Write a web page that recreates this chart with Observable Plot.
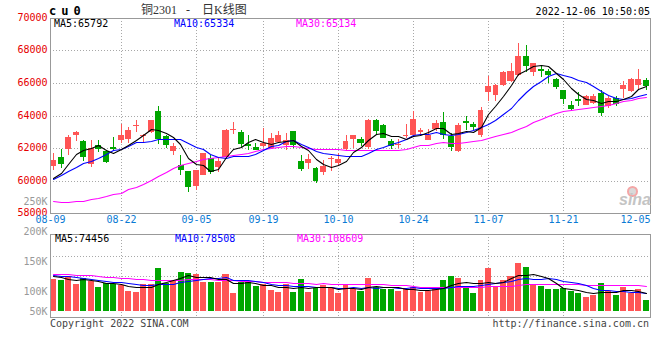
<!DOCTYPE html>
<html><head><meta charset="utf-8">
<script src="https://cdn.jsdelivr.net/npm/d3@7"></script>
<script src="https://cdn.jsdelivr.net/npm/@observablehq/plot@0.6"></script>
<style>
html,body{margin:0;padding:0;background:#fff;}
#chart{position:relative;width:660px;height:360px;overflow:hidden;background:#fff;font-family:'DejaVu Sans Mono',monospace;}
#chart svg{position:absolute;left:0;top:0;}
.t{position:absolute;white-space:pre;line-height:normal;font-size:10px;font-family:'DejaVu Sans Mono',monospace;}
</style></head><body><div id="chart"></div>
<script>
// ---- data ----
const dates = ["08-09","08-10","08-11","08-12","08-15","08-16","08-17","08-18","08-19","08-22","08-23","08-24","08-25","08-26","08-29","08-30","08-31","09-01","09-02","09-05","09-06","09-07","09-08","09-09","09-13","09-14","09-15","09-16","09-19","09-20","09-21","09-22","09-23","09-26","09-27","09-28","09-29","09-30","10-10","10-11","10-12","10-13","10-14","10-17","10-18","10-19","10-20","10-21","10-24","10-25","10-26","10-27","10-28","10-31","11-01","11-02","11-03","11-04","11-07","11-08","11-09","11-10","11-11","11-14","11-15","11-16","11-17","11-18","11-21","11-22","11-23","11-24","11-25","11-28","11-29","11-30","12-01","12-02","12-05","12-06"];
const open = [60890,61440,61960,62790,62410,61040,62160,61810,62080,62470,
62550,63370,62730,63000,64260,62710,61810,60930,60570,59650,
60340,61400,60850,61470,63160,62960,62260,62060,62100,62020,
62360,62160,63020,61180,61060,60750,60500,61300,61080,61960,
62530,62530,62060,63750,63390,62430,62220,62710,62770,62980,
62490,63140,63630,62730,61790,63690,63450,62770,65470,65290,
65900,66100,66510,67680,66650,66860,66760,66250,65550,64670,
65040,64670,64770,65390,64570,65080,65630,65490,65900,66200];
const high = [61710,61910,62830,63020,62490,62490,62490,61850,62670,63450,
63300,63750,62870,63750,64610,62830,62320,61550,60570,60630,
61670,61550,61400,63160,63570,63080,62830,62320,63240,62930,
63020,62900,63020,61550,61610,60830,61240,61500,61690,62770,
62830,62650,63790,63810,63450,62570,62530,63450,64260,63240,
63140,63750,64200,62940,63510,64000,63630,64510,66450,65940,
66760,67230,68450,68350,67230,67120,66860,66310,65590,64880,
65430,65290,65350,65550,65220,65180,66100,66310,66860,66310];
const low = [60630,60750,61550,62430,61200,60850,61750,61100,61850,62320,
62320,62980,62360,62900,62220,61980,61570,60340,59300,59400,
60340,60380,60500,61470,62850,62080,61870,61870,62060,61910,
62320,61850,62020,60570,60710,59830,60340,60590,60970,61790,
61980,62100,61910,62870,62610,61910,61980,62610,62690,62730,
62490,63040,62570,61790,61750,63100,63100,62690,64920,64920,
65800,66040,66410,66650,66410,66370,66000,65630,64710,64330,
64610,64670,64730,63960,64470,64570,65080,65430,65550,65590];
const close = [61240,61020,62690,62960,61440,62020,61910,61140,61980,62770,
63100,63430,62830,63710,62530,62160,62120,60630,59570,60630,
61670,60530,61180,63100,63200,62220,62180,61960,62280,62630,
62770,62490,62160,60690,61300,59970,60870,61380,61300,62410,
62770,62300,63750,63060,62610,62100,62260,62830,63810,63120,
62830,63510,62790,62060,63390,63510,63300,64310,65800,65860,
66650,66760,67680,67020,67230,66720,66490,65760,65020,64370,
64880,65180,65220,64160,65080,64730,65900,66270,66250,65840];
const volume = [136200,131900,147500,114900,140400,126300,102200,119200,116400,110700,
83800,79500,113500,113500,182900,119200,126300,165900,160300,156000,
123400,123400,123400,156000,76700,124900,124900,107900,116400,88000,
79500,116400,79500,136200,79500,96500,110700,96500,76700,113500,
95100,83800,138100,100800,93700,93700,83800,93700,102200,79500,
86600,97900,130500,147500,141900,96500,75300,130500,181500,107900,
130500,147500,202800,185800,112100,105000,92300,92300,96500,83800,
75300,58300,66800,117800,83800,66800,100800,75300,92300,45500];
// moving-average values at the left edge (they depend on earlier sessions)
const ma5Start = [60180,60440,61000,61610];
const ma10Start = [60120,60320,60590,60830,61060,61200,61400,61610,61850];
const ma30Start = [58730,58690,58690,58710,58750,58850,58950,59050,59180,59260,59460,59610,59810,60050,60300,60520,60740,60970,61100,61220,61300,61360,61440,61510,61570,61630,61710,61830,61940];
const vma5Start = [147500,144600,137600,133300];
const vma10Start = [151700,150300,147500,144600,140400,136100,133300,129100,124800];
const vma30Start = [157400,157400,157400,154500,153100,151700,147500,143200,143200,141800,140400,137600,136100,133300,131900,131900,131900,133300,134700,136100,136100,134700,133300,133300,130000,128500,127000,125500,124500];
const priceMaNow = [65792, 65334, 65134];
const volMaNow = [74456, 78508, 108609];
const priceTicks = [58000,60000,62000,64000,66000,68000,70000];
const priceGrid = [60000,62000,64000,66000,68000];
const tickDates = ["08-09","08-22","09-05","09-19","10-10","10-24","11-07","11-21","12-05"];
const gridDates = ["08-22","09-05","09-19","10-10","10-24","11-07","11-21"];
const volTicks = [50000,100000,150000,200000,250000];
const volGrid = [150000,235000];

// ---- helpers ----
const N = dates.length;
const idx = d3.range(N);
const RED = "#ff5555", GREEN = "#00a600", GRID = "#a8a8a8", FRAME = "#999999", BLUE = "#0a7ad4";
const candleColor = i => close[i] >= open[i] ? RED : GREEN;
const mov = (vals, n, start) => vals.map((v, i) => i < n - 1 ? start[i] : d3.mean(vals.slice(i - n + 1, i + 1)));
const ma5 = mov(close, 5, ma5Start), ma10 = mov(close, 10, ma10Start), ma30 = mov(close, 30, ma30Start);
const vma5 = mov(volume, 5, vma5Start), vma10 = mov(volume, 10, vma10Start), vma30 = mov(volume, 30, vma30Start);
const cx = i => i + 0.4;
const labelX = d => { const i = dates.indexOf(d); return i === 0 ? 0 : i === N - 2 ? i : cx(i); };
const styleBase = {fontFamily: "'DejaVu Sans Mono', monospace", fontSize: "10px", overflow: "visible"};
const dotted = {stroke: GRID, strokeDasharray: "1,2", shapeRendering: "crispEdges"};

const pricePlot = Plot.plot({
  width: 660, height: 230,
  marginLeft: 50, marginRight: 10, marginTop: 18, marginBottom: 17,
  x: {domain: [0, N], axis: null, round: true},
  y: {domain: [58000, 70000], axis: null, round: true},
  color: {type: "identity"},
  style: {...styleBase, background: "white"},
  marks: [
    Plot.ruleY(priceGrid, dotted),
    Plot.ruleX(gridDates, {x: d => cx(dates.indexOf(d)), ...dotted}),
    Plot.ruleX(idx, {x: cx, y1: i => low[i], y2: i => high[i], stroke: candleColor, shapeRendering: "crispEdges"}),
    Plot.rect(idx, {x1: i => i, x2: i => i + 0.8, y1: i => open[i], y2: i => close[i], fill: candleColor, shapeRendering: "crispEdges"}),
    Plot.ruleY(idx.filter(i => Math.abs(open[i] - close[i]) < 120), {y: i => close[i], x1: i => i, x2: i => i + 0.8, stroke: candleColor, shapeRendering: "crispEdges"}),
    Plot.line(idx, {x: cx, y: i => ma30[i], stroke: "#ff00ff", strokeWidth: 1.1}),
    Plot.line(idx, {x: cx, y: i => ma10[i], stroke: "#0000ff", strokeWidth: 1.1}),
    Plot.line(idx, {x: cx, y: i => ma5[i], stroke: "#000000", strokeWidth: 1.1}),
    Plot.frame({stroke: FRAME, shapeRendering: "crispEdges"}),
    Plot.text(priceTicks, {y: d => d, frameAnchor: "left", textAnchor: "end", dx: -3, dy: -1, text: d => String(d), fill: "#e60000"}),
    Plot.text(tickDates, {x: labelX, frameAnchor: "bottom", dy: 9, text: d => d, fill: BLUE})
  ]
});

const volPlot = Plot.plot({
  width: 660, height: 360,
  marginLeft: 50, marginRight: 10, marginTop: 234, marginBottom: 43,
  x: {domain: [0, N], axis: null, round: true},
  y: {domain: [0, 327000], axis: null, insetBottom: 6, round: true},
  color: {type: "identity"},
  style: {...styleBase, background: "none"},
  marks: [
    Plot.ruleY(volGrid, dotted),
    Plot.ruleX(gridDates, {x: d => cx(dates.indexOf(d)), ...dotted}),
    Plot.rect(idx, {x1: i => i, x2: i => i + 0.8, y1: 0, y2: i => volume[i], fill: candleColor, shapeRendering: "crispEdges"}),
    Plot.line(idx, {x: cx, y: i => vma30[i], stroke: "#ff00ff", strokeWidth: 1.1}),
    Plot.line(idx, {x: cx, y: i => vma10[i], stroke: "#0000ff", strokeWidth: 1.1}),
    Plot.line(idx, {x: cx, y: i => vma5[i], stroke: "#000000", strokeWidth: 1.1}),
    Plot.frame({stroke: FRAME, shapeRendering: "crispEdges"})
  ]
});

// volume axis labels: evenly spaced 30px apart, the lowest one clamped onto the panel's base
const volLabelPlot = Plot.plot({
  width: 50, height: 311, marginTop: 201, marginBottom: 0, marginLeft: 0, marginRight: 0,
  x: {axis: null},
  y: {domain: [250000 - 110 / 30 * 50000, 250000], axis: null, clamp: true},
  style: {...styleBase, background: "none"},
  marks: [
    Plot.text(volTicks, {y: d => d, frameAnchor: "right", textAnchor: "end", dx: -3, text: d => (d / 1000) + "K", fill: "#999999"})
  ]
});

const chart = document.getElementById("chart");
chart.append(pricePlot, volPlot, volLabelPlot);

function addText(txt, css) {
  const el = document.createElement("div");
  el.className = "t";
  el.textContent = txt;
  Object.assign(el.style, css);
  chart.append(el);
  return el;
}
addText("cu0", {left: "49px", top: "4px", fontSize: "12px", fontWeight: "bold", letterSpacing: "5px", color: "#000"});
addText("铜2301   -    日K线图", {left: "141px", top: "3px", fontSize: "12px", fontFamily: "'Liberation Serif','Noto Sans CJK SC',serif", color: "#333", lineHeight: "14px"});
addText("2022-12-06 10:50:05", {right: "10px", top: "6px", color: "#000"});
const maNames = ["MA5", "MA10", "MA30"], maColors = ["#000000", "#0000ff", "#ff00ff"], maLeft = [54, 174, 296];
maNames.forEach((n, k) => {
  addText(n + ":" + priceMaNow[k], {left: maLeft[k] + "px", top: "18px", color: maColors[k]});
  addText(n + ":" + volMaNow[k], {left: (maLeft[k] + 1) + "px", top: "233px", color: maColors[k]});
});
addText("Copyright 2022 SINA.COM", {left: "50px", top: "318px", color: "#444"});
addText("http://finance.sina.com.cn", {right: "11px", top: "318px", color: "#444"});
// faint sina watermark
const eye = document.createElement("div");
Object.assign(eye.style, {position: "absolute", left: "627px", top: "186px", width: "7px", height: "7px", border: "2px solid #f4a6a6", borderRadius: "50%", background: "#d9d9d9"});
chart.append(eye);
addText("sina", {left: "619px", top: "191px", fontSize: "16px", fontWeight: "bold", fontStyle: "italic", fontFamily: "'Liberation Sans',sans-serif", color: "#c4c4c4"});
</script></body></html>
